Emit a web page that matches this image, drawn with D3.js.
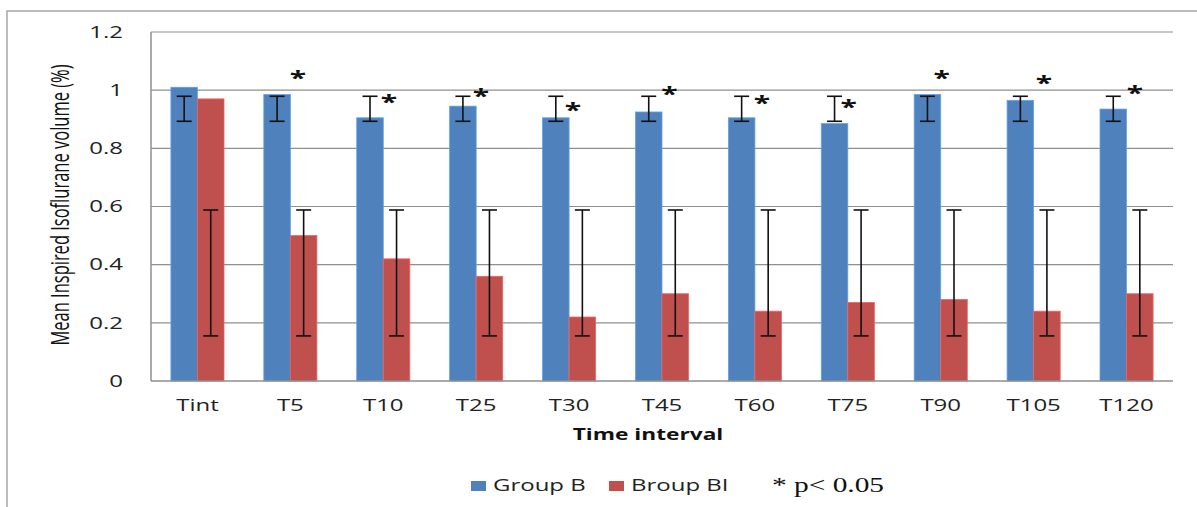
<!DOCTYPE html>
<html>
<head>
<meta charset="utf-8">
<script src="https://cdn.jsdelivr.net/npm/d3@7"></script>
<style>
  html, body { margin: 0; padding: 0; background: #fff; }
  svg { display: block; }
  svg { font-family: "Open Sans", "DejaVu Sans", sans-serif; }
</style>
</head>
<body>
<svg id="chart" width="1197" height="507"></svg>
<script>
// Time points and group means (Inspired isoflurane volume, %)
const categories = ["Tint", "T5", "T10", "T25", "T30", "T45", "T60", "T75", "T90", "T105", "T120"];
const groupB  = [1.01, 0.985, 0.905, 0.945, 0.905, 0.925, 0.905, 0.885, 0.985, 0.965, 0.935];
const groupBI = [0.97, 0.50, 0.42, 0.36, 0.22, 0.30, 0.24, 0.27, 0.28, 0.24, 0.30];

// Error bar extents for each group
const errLowB   = [0.893, 0.893, 0.893, 0.893, 0.893, 0.893, 0.893, 0.893, 0.893, 0.893, 0.893];
const errHighB  = [0.979, 0.979, 0.979, 0.979, 0.979, 0.979, 0.979, 0.979, 0.979, 0.979, 0.979];
const errLowBI  = [0.155, 0.155, 0.155, 0.155, 0.155, 0.155, 0.155, 0.155, 0.155, 0.155, 0.155];
const errHighBI = [0.588, 0.588, 0.588, 0.588, 0.588, 0.588, 0.588, 0.588, 0.588, 0.588, 0.588];

// Significance markers (* p < 0.05): height in value units, shift from category centre in bands
const starValue  = [null, 1.055, 0.973, 0.994, 0.945, 1.0, 0.969, 0.955, 1.055, 1.039, 1.003];
const starOffset = [null, 0.08, 0.06, 0.05, 0.04, 0.08, 0.075, 0.01, 0.01, 0.11, 0.09];

const seriesNames = ["Group B", "Broup BI"];
const yTicks = [0, 0.2, 0.4, 0.6, 0.8, 1, 1.2];
const yTickLabels = ["0", "0.2", "0.4", "0.6", "0.8", "1", "1.2"];

const colors = { "Group B": "#4F81BD", "Broup BI": "#C0504D" };
const SX = 1.5; // horizontal stretch applied to text glyphs

const svg = d3.select("#chart");
const plot = { left: 151, right: 1173, top: 32, bottom: 381 };

// outer frame
svg.append("path")
  .attr("d", "M7,507 V11 H1197")
  .attr("fill", "none")
  .attr("stroke", "#a6a6a6")
  .attr("stroke-width", 1.5);

const y = d3.scaleLinear().domain([0, 1.2]).range([plot.bottom, plot.top]);
const x0 = d3.scaleBand().domain(categories)
  .range([plot.left, plot.right])
  .paddingInner(1.5 / 3.5)
  .paddingOuter(0.75 / 3.5);
const x1 = d3.scaleBand().domain(seriesNames).range([0, x0.bandwidth()]);

function stretchedText(parent, x, yPos, str) {
  return parent.append("text")
    .attr("transform", `translate(${x},${yPos}) scale(${SX},1)`)
    .text(str);
}

// gridlines
svg.append("g")
  .selectAll("line")
  .data(yTicks.filter(d => d > 0))
  .join("line")
  .attr("x1", plot.left).attr("x2", plot.right)
  .attr("y1", d => y(d)).attr("y2", d => y(d))
  .attr("stroke", "#8f8f8f")
  .attr("stroke-width", 1.2);

// y tick labels
const yLab = svg.append("g")
  .attr("font-size", 16)
  .attr("fill", "#222")
  .attr("text-anchor", "end");
yTicks.forEach((t, i) => {
  stretchedText(yLab, 123, y(t), yTickLabels[i]).attr("dy", "0.36em");
});

// bars
const rows = categories.map((c, i) => ({
  cat: c,
  vals: [
    { s: "Group B", v: groupB[i], lo: errLowB[i], hi: errHighB[i] },
    { s: "Broup BI", v: groupBI[i], lo: errLowBI[i], hi: errHighBI[i] }
  ]
}));

const groups = svg.append("g")
  .selectAll("g")
  .data(rows)
  .join("g")
  .attr("transform", d => `translate(${x0(d.cat)},0)`);

groups.selectAll("rect")
  .data(d => d.vals)
  .join("rect")
  .attr("x", d => x1(d.s))
  .attr("width", x1.bandwidth())
  .attr("y", d => y(d.v))
  .attr("height", d => y(0) - y(d.v))
  .attr("fill", d => colors[d.s])
  .attr("stroke", d => d3.color(colors[d.s]).brighter(0.6))
  .attr("stroke-width", 0.8);

// error bars
const capW = 15;
const eb = groups.selectAll("g.err")
  .data(d => d.vals)
  .join("g")
  .attr("class", "err")
  .attr("stroke", "#111")
  .attr("stroke-width", 1.6);
eb.append("line")
  .attr("x1", d => x1(d.s) + x1.bandwidth() / 2)
  .attr("x2", d => x1(d.s) + x1.bandwidth() / 2)
  .attr("y1", d => y(d.lo)).attr("y2", d => y(d.hi));
eb.append("line")
  .attr("x1", d => x1(d.s) + x1.bandwidth() / 2 - capW / 2)
  .attr("x2", d => x1(d.s) + x1.bandwidth() / 2 + capW / 2)
  .attr("y1", d => y(d.hi)).attr("y2", d => y(d.hi));
eb.append("line")
  .attr("x1", d => x1(d.s) + x1.bandwidth() / 2 - capW / 2)
  .attr("x2", d => x1(d.s) + x1.bandwidth() / 2 + capW / 2)
  .attr("y1", d => y(d.lo)).attr("y2", d => y(d.lo));

// axis lines
svg.append("line")
  .attr("x1", plot.left).attr("x2", plot.left)
  .attr("y1", plot.top).attr("y2", plot.bottom)
  .attr("stroke", "#8f8f8f").attr("stroke-width", 1.5);
svg.append("line")
  .attr("x1", plot.left).attr("x2", plot.right)
  .attr("y1", plot.bottom).attr("y2", plot.bottom)
  .attr("stroke", "#8f8f8f").attr("stroke-width", 1.5);

// significance stars
const starG = svg.append("g")
  .attr("font-size", 20)
  .attr("font-weight", 700)
  .attr("fill", "#111")
  .attr("text-anchor", "middle");
categories.forEach((c, i) => {
  if (starValue[i] == null) return;
  const cx = x0(c) + x0.bandwidth() / 2 + starOffset[i] * x0.step();
  stretchedText(starG, cx, y(starValue[i]), "*").attr("dy", "0.55em");
});

// x tick labels
const xLab = svg.append("g")
  .attr("font-size", 16)
  .attr("fill", "#222")
  .attr("text-anchor", "middle");
categories.forEach(c => {
  stretchedText(xLab, x0(c) + x0.bandwidth() / 2, 411, c);
});

// axis titles
svg.append("text")
  .attr("transform", `translate(${(plot.left + plot.right) / 2 - 14},440) scale(1.42,1)`)
  .attr("text-anchor", "middle")
  .attr("font-size", 16)
  .attr("font-weight", 700)
  .attr("fill", "#111")
  .text("Time interval");

svg.append("text")
  .attr("transform", `translate(60,205) rotate(-90) scale(1,${SX})`)
  .attr("text-anchor", "middle")
  .attr("dy", "0.35em")
  .attr("font-size", 16.5)
  .attr("fill", "#111")
  .text("Mean Inspired Isoflurane volume (%)");

// legend
const legend = svg.append("g").attr("font-size", 16).attr("fill", "#222");
const legendX = [471, 609];
seriesNames.forEach((s, i) => {
  legend.append("rect")
    .attr("x", legendX[i]).attr("y", 481)
    .attr("width", 15).attr("height", 10)
    .attr("fill", colors[s]);
  stretchedText(legend, legendX[i] + 22, 491, s);
});
svg.append("text")
  .attr("transform", `translate(772,492) scale(1.4,1)`)
  .style("font-family", "'Liberation Serif', 'DejaVu Serif', serif")
  .attr("font-size", 21)
  .attr("fill", "#111")
  .text("* p< 0.05");
</script>
</body>
</html>
